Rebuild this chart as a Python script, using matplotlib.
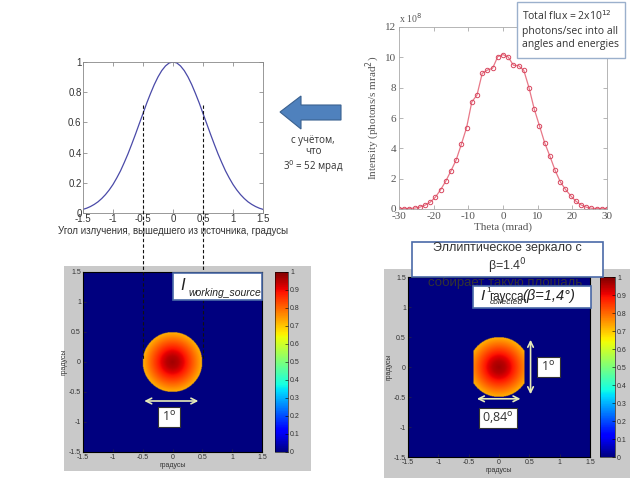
import numpy as np
import matplotlib
matplotlib.use('Agg')
import matplotlib.pyplot as plt
from matplotlib.patches import Rectangle, Polygon

plt.rcParams['font.family'] = ['Liberation Sans', 'DejaVu Sans']

# data: emission profile of the source (degrees)
ang = [-1.5, -1.4375, -1.375, -1.3125, -1.25, -1.1875, -1.125, -1.0625, -1.0, -0.9375, -0.875, -0.8125,
       -0.75, -0.6875, -0.625, -0.5625, -0.5, -0.4375, -0.375, -0.3125, -0.25, -0.1875, -0.125, -0.0625,
       0.0, 0.0625, 0.125, 0.1875, 0.25, 0.3125, 0.375, 0.4375, 0.5, 0.5625, 0.625, 0.6875, 0.75,
       0.8125, 0.875, 0.9375, 1.0, 1.0625, 1.125, 1.1875, 1.25, 1.3125, 1.375, 1.4375, 1.5]
prof = [0.024, 0.032, 0.043, 0.057, 0.074, 0.096, 0.122, 0.153, 0.189, 0.232, 0.279, 0.334,
        0.392, 0.456, 0.522, 0.591, 0.659, 0.728, 0.791, 0.850, 0.901, 0.943, 0.974, 0.994,
        1.0, 0.994, 0.974, 0.943, 0.901, 0.850, 0.791, 0.728, 0.659, 0.591, 0.522, 0.456, 0.392,
        0.334, 0.279, 0.232, 0.189, 0.153, 0.122, 0.096, 0.074, 0.057, 0.043, 0.032, 0.024]

# measured intensity, x 10^8 photons/s mrad^2
theta = [-30, -28.5, -27, -25.5, -24, -22.5, -21, -19.5, -18, -16.5, -15, -13.5, -12, -10.5, -9, -7.5,
         -6, -4.5, -3, -1.5, 0, 1.5, 3, 4.5, 6, 7.5, 9, 10.5, 12, 13.5, 15, 16.5, 18, 19.5, 21,
         22.5, 24, 25.5, 27, 28.5, 30]
inten = [0.02, 0.02, 0.03, 0.06, 0.12, 0.25, 0.45, 0.78, 1.27, 1.84, 2.52, 3.24, 4.28, 5.37, 7.06, 7.52,
         8.94, 9.16, 9.28, 10.05, 10.18, 10.02, 9.48, 9.45, 9.14, 8.0, 6.6, 5.5, 4.38, 3.5, 2.57,
         1.8, 1.3, 0.88, 0.52, 0.27, 0.12, 0.05, 0.03, 0.02, 0.02]

# radial profile inside the spot (heat maps)
spot_r = [0.0, 0.1, 0.2, 0.3, 0.4, 0.5]
spot_v = [0.97, 0.95, 0.90, 0.84, 0.78, 0.72]
spot_radius = 0.5
cut_half_width = 0.42

deg_ticks = [-1.5, -1, -0.5, 0, 0.5, 1, 1.5]
deg_labels = ['-1.5', '-1', '-0.5', '0', '0.5', '1', '1.5']


def px(l, t, r, b):
    return [l / 640, 1 - b / 480, (r - l) / 640, (b - t) / 480]


fig = plt.figure(figsize=(6.4, 4.8), dpi=100)

# grey MATLAB figure panels
for box in [(64, 266, 311, 471), (384, 269, 630, 478)]:
    bg = fig.add_axes(px(*box), zorder=-2)
    bg.set_facecolor('#c9c9c9')
    bg.set_xticks([])
    bg.set_yticks([])
    for s in bg.spines.values():
        s.set_visible(False)

# top-left: emission profile
ax1 = fig.add_axes(px(83, 62, 263, 213))
ax1.plot(ang, prof, color='#4a4aa8', lw=0.9)
ax1.set_xlim(-1.5, 1.5)
ax1.set_ylim(0, 1)
ax1.set_xticks(deg_ticks)
ax1.set_xticklabels(deg_labels)
ax1.set_yticks([0, 0.2, 0.4, 0.6, 0.8, 1])
ax1.set_yticklabels(['0', '0.2', '0.4', '0.6', '0.8', '1'])
ax1.tick_params(direction='in', top=True, right=True, labelsize=7, length=3, width=0.5,
                color='#777777', labelcolor='#333333', pad=1)
for s in ax1.spines.values():
    s.set_color('#888888')
    s.set_linewidth(0.6)
ax1.set_xlabel('Угол излучения, вышедшего из источника, градусы', fontsize=7, color='#333333', labelpad=1)

# top-right: measured intensity
ax2 = fig.add_axes(px(399, 27, 607, 209))
ax2.plot(theta, inten, color='#e87888', lw=0.9, marker='o', ms=3.2, mfc='none', mec='#d84860', mew=0.7)
ax2.set_xlim(-30, 30)
ax2.set_ylim(0, 12)
ax2.set_xticks([-30, -20, -10, 0, 10, 20, 30])
ax2.set_xticklabels(['-30', '-20', '-10', '0', '10', '20', '30'])
ax2.set_yticks([0, 2, 4, 6, 8, 10, 12])
ax2.tick_params(direction='in', top=True, right=True, labelsize=8, length=3, width=0.5,
                color='#999999', labelcolor='#555555', pad=2)
for lab in ax2.get_xticklabels() + ax2.get_yticklabels():
    lab.set_family('Liberation Serif')
for s in ax2.spines.values():
    s.set_color('#aaaaaa')
    s.set_linewidth(0.6)
ax2.set_xlabel('Theta (mrad)', fontsize=8, family='Liberation Serif', color='#555555', labelpad=1)
ax2.set_ylabel('Intensity (photons/s mrad$^2$)', fontsize=8, family='Liberation Serif',
               color='#555555', labelpad=2)
ax2.text(0.0, 1.01, 'x 10$^8$', transform=ax2.transAxes, fontsize=7, family='Liberation Serif',
         color='#555555', va='bottom')

# heat maps
g = np.linspace(-1.5, 1.5, 400)
X, Y = np.meshgrid(g, g)
R = np.sqrt(X ** 2 + Y ** 2)
img1 = np.where(R <= spot_radius, np.interp(R, spot_r, spot_v), 0.0)
img2 = np.where((R <= spot_radius) & (np.abs(X) <= cut_half_width), np.interp(R, spot_r, spot_v), 0.0)

maps = [(img1, (83, 272, 262, 452), (275, 272, 288, 452)),
        (img2, (408, 277, 590, 457), (600, 277, 615, 457))]
hax = []
for img, apos, cpos in maps:
    ax = fig.add_axes(px(*apos))
    im = ax.imshow(img, extent=[-1.5, 1.5, -1.5, 1.5], origin='lower', cmap='jet', vmin=0, vmax=1,
                   aspect='auto', interpolation='bilinear')
    ax.set_xticks(deg_ticks)
    ax.set_xticklabels(deg_labels)
    ax.set_yticks(deg_ticks)
    ax.set_yticklabels(deg_labels)
    ax.tick_params(direction='in', labelsize=5, length=2, width=0.4, color='#333333',
                   labelcolor='#333333', pad=1.5)
    ax.set_xlabel('градусы', fontsize=5, color='#333333', labelpad=1)
    ax.set_ylabel('градусы', fontsize=5, color='#333333', labelpad=1)
    cax = fig.add_axes(px(*cpos))
    cb = fig.colorbar(im, cax=cax, ticks=np.arange(0, 1.01, 0.1))
    cb.ax.set_yticklabels(['0', '0.1', '0.2', '0.3', '0.4', '0.5', '0.6', '0.7', '0.8', '0.9', '1'])
    cb.ax.tick_params(direction='in', labelsize=5, length=2, width=0.4, pad=1.5, labelcolor='#333333')
    cb.outline.set_linewidth(0.4)
    hax.append(ax)

arrow_col = '#e6ebb8'
hax[0].annotate('', xy=(-0.52, -0.65), xytext=(0.48, -0.65),
                arrowprops=dict(arrowstyle='<->', color=arrow_col, lw=1.2))
hax[1].annotate('', xy=(-0.41, -0.53), xytext=(0.40, -0.53),
                arrowprops=dict(arrowstyle='<->', color=arrow_col, lw=1.2))
hax[1].annotate('', xy=(0.52, 0.5), xytext=(0.52, -0.5),
                arrowprops=dict(arrowstyle='<->', color=arrow_col, lw=1.2))

# overlay in pixel coordinates for slide decorations
ov = fig.add_axes([0, 0, 1, 1], zorder=10)
ov.set_xlim(0, 640)
ov.set_ylim(480, 0)
ov.axis('off')
ov.patch.set_alpha(0)

for xd in [143, 203]:
    ov.plot([xd, xd], [105, 360], color='#111111', lw=0.8, ls=(0, (3, 2)), zorder=1)

# big blue arrow
ov.add_patch(Polygon([(280, 112), (301, 96), (301, 105), (341, 105), (341, 120), (301, 120), (301, 129)],
                     closed=True, fc='#4f81bd', ec='#3a6190', lw=0.8, zorder=2))
ov.text(313, 155, 'с учётом,\nчто\n3$^0$ = 52 мрад', ha='center', va='center', fontsize=7,
        family=['Open Sans', 'DejaVu Sans'], color='#333333', linespacing=1.1, zorder=2)

# flux box
ov.add_patch(Rectangle((517, 2), 108, 56, fc='white', ec='#9bb0cc', lw=1.0, zorder=3))
ov.text(522, 30, 'Total flux = 2x10$^{12}$\nphotons/sec into all\nangles and energies', ha='left',
        va='center', fontsize=7.5, family=['Open Sans', 'DejaVu Sans'], color='#333333',
        linespacing=1.3, zorder=4)

# working source label
ov.add_patch(Rectangle((173, 273), 89, 27, fc='white', ec='#4a6aa8', lw=1.2, zorder=3))
ov.text(180, 286, 'I', ha='left', va='center', fontsize=12, style='italic', color='#222222', zorder=4)
ov.text(188, 293, 'working_source', ha='left', va='center', fontsize=7.5, style='italic',
        color='#222222', zorder=4)

# value boxes
for cx, cy, w, lab in [(169, 417, 22, '1$^{\\rm o}$'), (548, 367, 23, '1$^{\\rm o}$'), (498, 418, 38, '0,84$^{\\rm o}$')]:
    ov.add_patch(Rectangle((cx - w / 2, cy - 10), w, 20, fc='white', ec='#333333', lw=0.8, zorder=3))
    ov.text(cx, cy, lab, ha='center', va='center', fontsize=9, family=['Open Sans', 'DejaVu Sans'],
            color='#333333', zorder=4)

# mirror caption
ov.text(505, 283, 'собирает такую площадь', ha='center', va='center', fontsize=9.5, color='#333333', zorder=2)
ov.add_patch(Rectangle((473, 286), 118, 22, fc='white', ec='#4a6aa8', lw=1.2, zorder=3))
ov.text(480, 296, 'I', ha='left', va='center', fontsize=11, style='italic', color='#222222', zorder=4)
ov.text(486, 290, '1', ha='left', va='center', fontsize=6, color='#222222', zorder=4)
ov.text(489, 297, 'гаусса,', ha='left', va='center', fontsize=8.5, color='#222222', zorder=4)
ov.text(490, 303, 'collected', ha='left', va='center', fontsize=6, style='italic', color='#222222', zorder=4)
ov.text(522, 296, '(β=1,4°)', ha='left', va='center', fontsize=10.5, style='italic', color='#222222', zorder=4)
ov.add_patch(Rectangle((412, 242), 191, 35, fc='white', ec='#4a6aa8', lw=1.2, zorder=5))
ov.text(507, 259, 'Эллиптическое зеркало с\nβ=1.4$^0$', ha='center', va='center', fontsize=9,
        color='#333333', linespacing=1.2, zorder=6)

fig.savefig('out.png', dpi=100)
